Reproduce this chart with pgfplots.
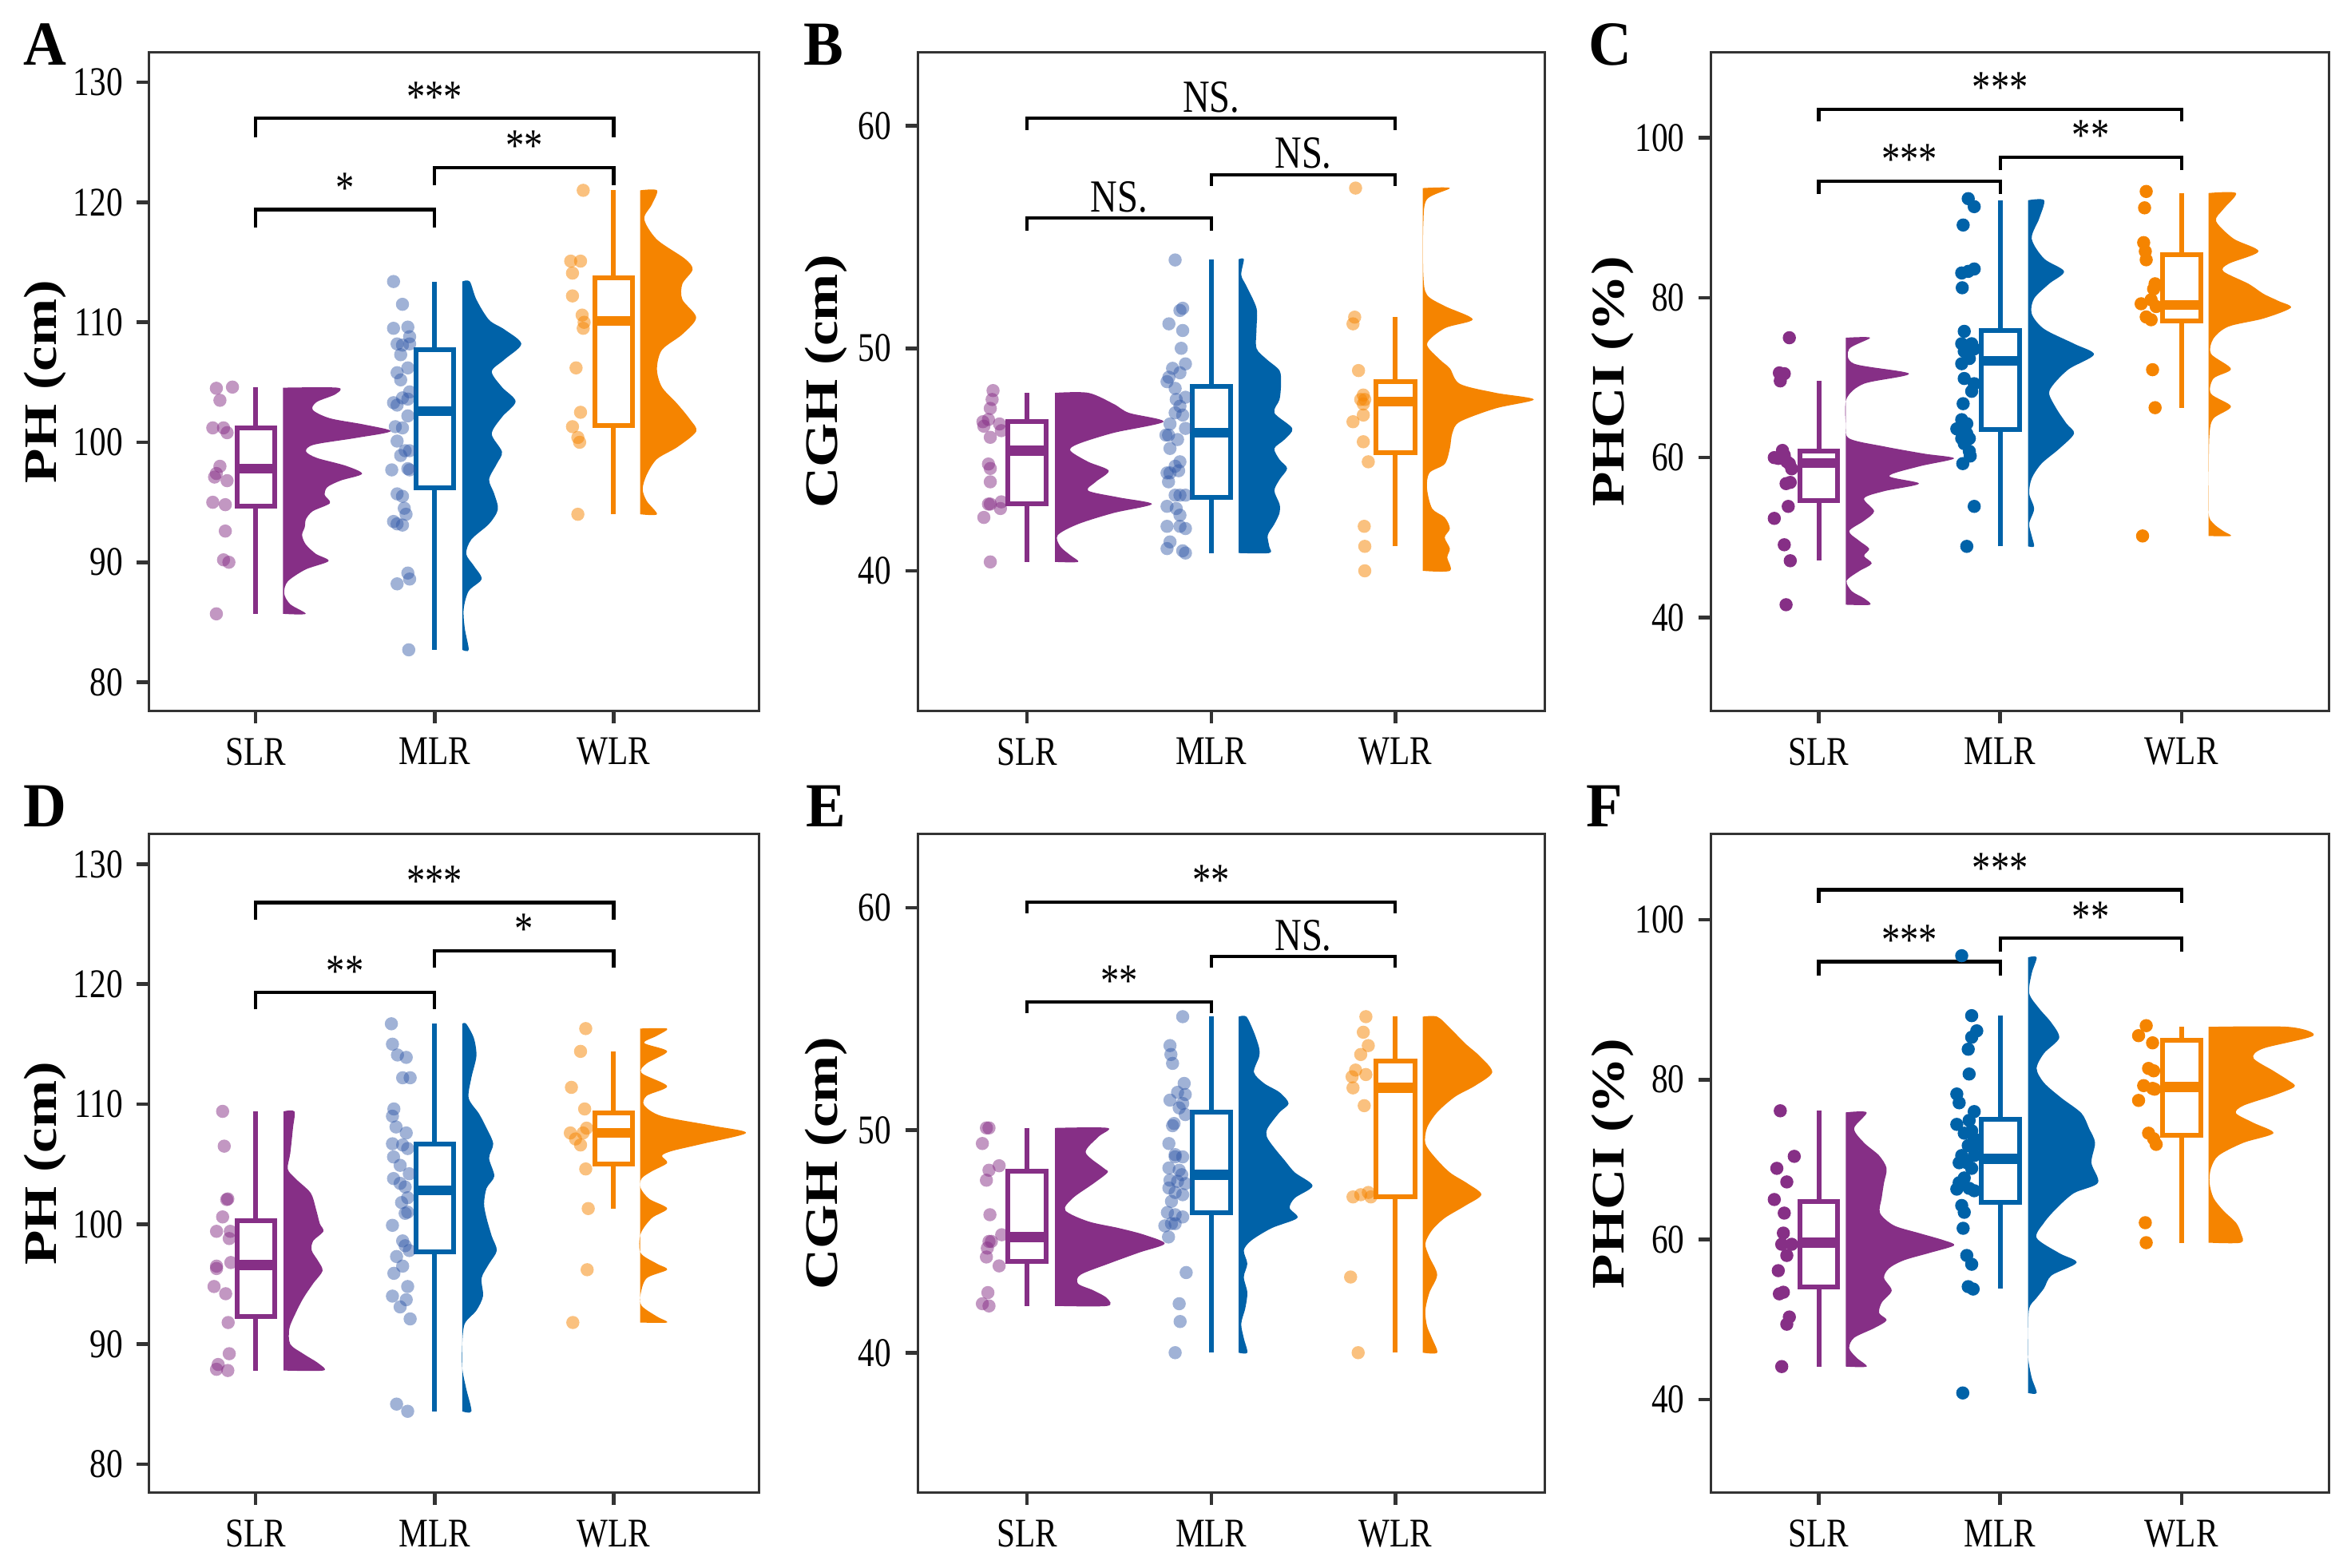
\documentclass[border=0pt]{standalone}
\usepackage{fontspec}
\setmainfont{Liberation Serif}[FakeStretch=0.81]
\newfontfamily\letfont{Liberation Serif}[FakeStretch=0.95]
\newfontfamily\ylfont{Liberation Serif}
\usepackage{pgfplots}
\pgfplotsset{compat=1.18}
\definecolor{cS}{HTML}{862F86}
\definecolor{cM}{HTML}{0062A8}
\definecolor{cW}{HTML}{F58400}
\definecolor{pM}{HTML}{2D55A5}
\definecolor{frm}{HTML}{333333}
\newcommand{\tlf}{\fontsize{10.2bp}{12bp}\selectfont}
\newcommand{\sigf}{\fontsize{11.5bp}{13bp}\selectfont}
\newcommand{\ylf}{\ylfont\bfseries\fontsize{14.2bp}{16bp}\selectfont}
\newcommand{\letf}{\letfont\bfseries\fontsize{15.7bp}{18bp}\selectfont}

% box: x, xl, xr, colour, wlo, q1, med, q3, whi
\newcommand{\bx}[9]{%
  \addplot[#4, line width=1.2bp] coordinates {(#1,#5) (#1,#9)};
  \addplot[#4, line width=1.2bp, fill=white] coordinates {(#2,#6) (#3,#6) (#3,#8) (#2,#8)} --cycle;
  \addplot[#4, line width=2.5bp] coordinates {(#2,#7) (#3,#7)};
}
% bracket: x1, x2, ylo, yhi, xmid, label
\newcommand{\brk}[6]{%
  \addplot[black, line width=0.85bp] coordinates {(#1,#3) (#1,#4) (#2,#4) (#2,#3)};
  \node[anchor=base, inner sep=0pt, yshift=1.6bp, font=\sigf] at (axis cs:#5,#4) {#6};
}
\newcommand{\dens}[2]{\addplot[draw=none, fill=#1, smooth] coordinates {#2} --cycle;}
\newcommand{\pts}[3]{\addplot[color=#1, only marks, mark=*, mark size=1.65bp, mark options={draw opacity=0, line width=0pt, fill=#1, fill opacity=#2}] coordinates {#3};}

\pgfplotsset{
 rc/.style={
  scale only axis, anchor=south west,
  xmin=0.405, xmax=3.812,
  xtick={1,2,3}, xticklabels={SLR,MLR,WLR},
  xtick pos=left, ytick pos=left,
  tick align=outside,
  major tick length=3.1bp,
  minor tick num=0,
  tick style={draw=frm, line width=0.9bp},
  axis line style={draw=frm, line width=0.6bp},
  tick label style={font=\tlf, text=black},
  xticklabel style={anchor=north, inner sep=0pt, yshift=-3.5bp},
  yticklabel style={anchor=east, inner sep=0pt, xshift=-3.3bp},
  /pgf/number format/assume math mode=true,
  clip=false,
 },
 rA/.style={rc, ymin=77.6, ymax=132.5, ytick={80,90,100,110,120,130}},
 rB/.style={rc, ymin=33.7, ymax=63.3, ytick={40,50,60}},
 rC/.style={rc, ymin=28.3, ymax=110.7, ytick={40,60,80,100}},
}

\begin{document}
\begin{tikzpicture}
\path[use as bounding box] (0,0) rectangle (587.8bp,392.8bp);

% ================= A =================
\begin{axis}[rA, at={(37.38bp,214.68bp)}, width=152.7bp, height=165bp]
\dens{cS}{(1.152,85.7) (1.279,85.7) (1.193,86.5) (1.159,87.4) (1.179,88.4) (1.279,89.4) (1.407,90.1) (1.336,90.7) (1.279,91.5) (1.259,92.27) (1.274,92.93) (1.281,93.6) (1.319,94.26) (1.415,94.93) (1.386,95.6) (1.4,96.26) (1.475,96.81) (1.594,97.37) (1.504,98.04) (1.341,98.7) (1.281,99.25) (1.326,99.8) (1.564,100.37) (1.754,100.92) (1.609,101.47) (1.415,102.0) (1.319,102.7) (1.341,103.36) (1.445,104.0) (1.457,104.55) (1.152,104.55)}
\dens{cM}{(2.154,82.7) (2.19,82.7) (2.168,84.5) (2.162,86.1) (2.19,87.6) (2.262,88.6) (2.219,89.7) (2.176,90.7) (2.205,91.9) (2.304,93.2) (2.353,94.4) (2.333,95.7) (2.304,96.9) (2.347,98.2) (2.376,99.2) (2.319,100.7) (2.376,102.1) (2.452,103.4) (2.376,104.6) (2.319,105.9) (2.39,106.9) (2.484,108.2) (2.39,109.4) (2.304,110.2) (2.233,111.9) (2.196,113.4) (2.154,113.4)}
\dens{cW}{(3.148,94.0) (3.242,94.0) (3.185,95.1) (3.162,96.1) (3.185,97.3) (3.242,98.6) (3.356,99.6) (3.461,100.9) (3.427,101.9) (3.356,103.2) (3.27,104.6) (3.242,106.1) (3.27,107.7) (3.384,109.0) (3.461,110.4) (3.384,111.9) (3.384,113.2) (3.441,114.4) (3.398,115.3) (3.242,116.9) (3.171,118.6) (3.213,119.8) (3.242,121.0) (3.148,121.0)}
\bx{1}{0.895}{1.105}{cS}{85.7}{94.7}{97.8}{101.2}{104.6}
\bx{2}{1.895}{2.105}{cM}{82.7}{96.2}{102.6}{107.7}{113.4}
\bx{3}{2.895}{3.105}{cW}{94.0}{101.4}{110.1}{113.7}{121.0}
\pts{cS}{0.5}{(0.78,104.5) (0.87,104.6) (0.80,103.5) (0.76,101.2) (0.82,101.2) (0.84,100.8) (0.80,98.0) (0.78,97.4) (0.77,97.1) (0.84,96.8) (0.76,95.0) (0.83,94.8) (0.83,92.6) (0.82,90.2) (0.85,90.0) (0.78,85.7)}
\pts{pM}{0.45}{(1.77,113.4) (1.82,111.5) (1.77,109.5) (1.85,109.6) (1.86,108.8) (1.79,108.2) (1.82,108.1) (1.86,108.2) (1.81,107.3) (1.85,106.2) (1.79,105.8) (1.81,105.2) (1.86,104.2) (1.82,103.7) (1.85,103.6) (1.77,103.3) (1.79,103.1) (1.85,102.2) (1.78,101.3) (1.82,101.2) (1.79,100.1) (1.835,99.3) (1.86,99.3) (1.81,98.9) (1.76,97.7) (1.85,97.8) (1.86,97.7) (1.79,95.7) (1.82,95.5) (1.83,94.5) (1.84,94.0) (1.77,93.4) (1.79,93.2) (1.82,93.1) (1.85,89.1) (1.86,88.6) (1.79,88.2) (1.855,82.7)}
\pts{cW}{0.5}{(2.83,121.0) (2.76,115.1) (2.815,115.1) (2.77,114.1) (2.77,112.2) (2.824,110.6) (2.835,110.0) (2.83,109.5) (2.79,106.2) (2.815,102.5) (2.77,101.3) (2.80,100.4) (2.81,100.0) (2.80,94.0)}
\brk{1}{3}{125.4}{127.0}{2}{***}
\brk{1}{2}{117.9}{119.4}{1.5}{*}
\brk{2}{3}{121.4}{122.9}{2.5}{**}
\end{axis}

% ================= B =================
\begin{axis}[rB, at={(229.8bp,214.68bp)}, width=157.1bp, height=165bp]
\dens{cS}{(1.152,40.4) (1.277,40.4) (1.235,40.7) (1.18,41.1) (1.166,41.6) (1.277,42.1) (1.47,42.6) (1.678,43.0) (1.498,43.3) (1.332,43.6) (1.373,44.0) (1.443,44.5) (1.332,44.9) (1.235,45.4) (1.277,45.7) (1.47,46.2) (1.741,46.7) (1.553,47.1) (1.47,47.5) (1.332,48.0) (1.152,48.0)}
\dens{cM}{(2.149,40.8) (2.315,40.8) (2.315,41.1) (2.307,41.6) (2.343,42.1) (2.371,42.6) (2.371,43.0) (2.343,43.6) (2.371,44.1) (2.412,44.6) (2.371,45.0) (2.343,45.5) (2.398,45.9) (2.44,46.4) (2.343,47.1) (2.371,47.7) (2.379,48.4) (2.371,49.0) (2.302,49.5) (2.246,50.0) (2.246,50.9) (2.246,51.8) (2.191,52.8) (2.163,53.3) (2.177,54.0) (2.149,54.0)}
\dens{cW}{(3.149,40.0) (3.296,40.0) (3.282,40.6) (3.296,41.0) (3.268,41.5) (3.296,41.9) (3.268,42.4) (3.2,42.8) (3.172,43.7) (3.185,44.4) (3.268,44.8) (3.296,45.5) (3.31,46.2) (3.351,46.7) (3.545,47.3) (3.752,47.7) (3.545,48.0) (3.351,48.4) (3.296,49.1) (3.241,49.5) (3.172,50.2) (3.268,50.9) (3.42,51.3) (3.268,51.9) (3.172,52.4) (3.152,53.3) (3.152,55.6) (3.172,56.7) (3.296,57.2) (3.149,57.2)}
\bx{1}{0.895}{1.105}{cS}{40.4}{43.0}{45.4}{46.7}{48.0}
\bx{2}{1.895}{2.105}{cM}{40.8}{43.3}{46.2}{48.3}{54.0}
\bx{3}{2.895}{3.105}{cW}{41.1}{45.3}{47.6}{48.5}{51.4}
\pts{cS}{0.5}{(0.815,48.1) (0.81,47.7) (0.80,47.3) (0.79,46.8) (0.85,46.6) (0.76,46.7) (0.765,46.5) (0.80,46.0) (0.86,46.3) (0.79,44.8) (0.80,44.6) (0.80,44.0) (0.79,43.0) (0.80,43.0) (0.86,43.1) (0.855,42.8) (0.765,42.4) (0.80,40.4)}
\pts{pM}{0.45}{(1.804,53.97) (1.845,51.8) (1.83,51.7) (1.77,51.1) (1.845,50.8) (1.837,50.0) (1.86,49.3) (1.79,49.1) (1.77,48.7) (1.83,48.9) (1.76,48.5) (1.804,48.2) (1.81,47.7) (1.86,47.8) (1.83,47.4) (1.804,47.1) (1.845,47.0) (1.776,46.6) (1.86,46.4) (1.768,46.1) (1.754,46.1) (1.817,45.9) (1.776,45.5) (1.83,44.9) (1.804,44.7) (1.776,44.4) (1.823,44.5) (1.76,44.4) (1.768,44.0) (1.83,43.4) (1.804,43.4) (1.86,43.4) (1.76,42.9) (1.81,42.8) (1.83,42.5) (1.86,41.9) (1.76,42.0) (1.83,42.0) (1.776,41.3) (1.76,41.0) (1.86,40.8) (1.845,40.9)}
\pts{cW}{0.5}{(2.784,57.2) (2.779,51.4) (2.77,51.1) (2.80,49.0) (2.826,47.9) (2.812,47.7) (2.834,47.7) (2.826,47.5) (2.77,46.7) (2.826,47.0) (2.826,45.8) (2.853,44.9) (2.831,42.0) (2.834,41.1) (2.834,40.0)}
\brk{1}{3}{59.8}{60.34}{2}{NS.}
\brk{1}{2}{55.3}{55.85}{1.5}{NS.}
\brk{2}{3}{57.3}{57.8}{2.5}{NS.}
\end{axis}

% ================= C =================
\begin{axis}[rC, at={(428.46bp,214.68bp)}, width=154.8bp, height=165bp]
\dens{cS}{(1.149,41.6) (1.283,41.6) (1.25,42.4) (1.182,43.3) (1.154,44.6) (1.223,45.8) (1.292,46.75) (1.25,47.7) (1.278,48.6) (1.223,49.6) (1.168,50.8) (1.25,52.1) (1.305,53.3) (1.25,54.9) (1.36,55.8) (1.553,56.75) (1.388,57.7) (1.553,58.9) (1.746,59.9) (1.58,60.5) (1.36,61.4) (1.168,62.4) (1.149,64.25) (1.154,67.4) (1.25,69.25) (1.498,70.5) (1.195,71.75) (1.168,73.6) (1.283,75.0) (1.149,75.0)}
\dens{cM}{(2.154,48.9) (2.187,48.9) (2.174,50.2) (2.16,51.75) (2.187,53.6) (2.16,55.5) (2.174,57.4) (2.228,59.25) (2.325,61.1) (2.407,63.0) (2.366,64.25) (2.311,66.1) (2.27,68.0) (2.297,69.25) (2.38,71.1) (2.517,72.9) (2.407,74.25) (2.242,76.1) (2.174,78.0) (2.187,79.9) (2.27,81.75) (2.352,83.3) (2.242,84.9) (2.174,87.4) (2.215,89.9) (2.242,92.2) (2.154,92.2)}
\dens{cW}{(3.149,50.2) (3.272,50.2) (3.231,50.8) (3.176,51.75) (3.149,53.0) (3.149,58.0) (3.154,63.0) (3.176,64.9) (3.272,66.4) (3.162,68.0) (3.176,69.9) (3.272,71.1) (3.162,73.0) (3.176,74.9) (3.259,76.4) (3.451,77.4) (3.602,78.75) (3.534,79.6) (3.451,80.5) (3.369,81.75) (3.231,83.3) (3.259,84.25) (3.424,85.8) (3.286,87.4) (3.19,89.6) (3.231,91.1) (3.3,93.1) (3.149,93.1)}
\bx{1}{0.895}{1.105}{cS}{47.1}{54.6}{59.3}{60.8}{69.6}
\bx{2}{1.895}{2.105}{cM}{48.9}{63.5}{72.1}{75.9}{92.2}
\bx{3}{2.895}{3.105}{cW}{66.25}{77.1}{79.1}{85.4}{93.1}
\pts{cS}{1}{(0.838,75.0) (0.783,70.6) (0.81,70.5) (0.788,69.6) (0.755,60.0) (0.80,60.9) (0.81,60.3) (0.838,59.25) (0.851,58.6) (0.82,56.75) (0.843,56.9) (0.832,53.9) (0.755,52.4) (0.81,49.1) (0.843,47.1) (0.82,41.6) (0.777,59.9) (0.824,59.5)}
\pts{cM}{1}{(1.824,92.4) (1.857,91.4) (1.796,89.1) (1.788,83.1) (1.857,83.6) (1.824,83.3) (1.791,81.25) (1.802,75.8) (1.788,74.25) (1.843,74.25) (1.802,73.3) (1.857,73.6) (1.788,71.75) (1.83,72.4) (1.802,69.9) (1.857,69.25) (1.843,68.3) (1.796,66.75) (1.788,64.75) (1.816,64.25) (1.761,63.6) (1.816,63.0) (1.788,62.4) (1.83,62.4) (1.802,61.75) (1.83,60.8) (1.835,60.2) (1.794,59.25) (1.857,53.9) (1.816,48.9)}
\pts{cW}{1}{(2.805,93.3) (2.796,91.25) (2.791,86.9) (2.80,85.8) (2.805,84.75) (2.854,81.75) (2.846,81.1) (2.777,79.25) (2.832,79.75) (2.86,78.9) (2.805,77.6) (2.832,77.25) (2.84,71.0) (2.854,66.25) (2.785,50.2)}
\brk{1}{3}{102.1}{103.6}{2}{***}
\brk{1}{2}{93.0}{94.6}{1.5}{***}
\brk{2}{3}{96.0}{97.6}{2.5}{**}
\end{axis}

% ================= D =================
\begin{axis}[rA, at={(37.38bp,18.82bp)}, width=152.7bp, height=165bp]
\dens{cS}{(1.156,87.8) (1.378,87.8) (1.35,88.4) (1.265,89.2) (1.193,90.0) (1.188,91.3) (1.222,92.55) (1.265,93.8) (1.321,95.05) (1.373,96.1) (1.35,96.9) (1.313,97.8) (1.321,98.6) (1.378,99.4) (1.358,100.05) (1.336,101.3) (1.307,102.6) (1.222,103.8) (1.179,104.6) (1.193,105.9) (1.208,108.0) (1.216,109.4) (1.156,109.4)}
\dens{cM}{(2.154,84.4) (2.205,84.4) (2.176,86.3) (2.154,88.0) (2.154,90.0) (2.168,91.7) (2.233,92.8) (2.27,94.0) (2.262,95.5) (2.304,96.7) (2.347,97.8) (2.319,99.0) (2.29,100.5) (2.276,101.7) (2.29,103.0) (2.333,104.0) (2.304,105.5) (2.327,106.7) (2.29,108.0) (2.248,109.2) (2.19,110.5) (2.205,112.2) (2.233,114.0) (2.219,115.5) (2.176,116.7) (2.154,116.7)}
\dens{cW}{(3.148,91.8) (3.299,91.8) (3.242,92.3) (3.156,93.2) (3.151,94.2) (3.185,95.5) (3.299,96.2) (3.242,96.7) (3.151,97.6) (3.151,99.2) (3.213,100.5) (3.299,101.3) (3.199,102.1) (3.151,103.0) (3.156,103.8) (3.213,104.4) (3.299,105.1) (3.27,105.7) (3.327,106.1) (3.498,106.7) (3.74,107.6) (3.555,108.2) (3.27,109.0) (3.171,109.9) (3.185,110.7) (3.299,111.5) (3.156,112.6) (3.185,113.4) (3.299,114.4) (3.171,115.1) (3.242,115.7) (3.299,116.3) (3.148,116.3)}
\bx{1}{0.895}{1.105}{cS}{87.8}{92.3}{96.6}{100.3}{109.4}
\bx{2}{1.895}{2.105}{cM}{84.4}{97.7}{102.8}{106.7}{116.7}
\bx{3}{2.895}{3.105}{cW}{101.3}{105.0}{107.6}{109.3}{114.4}
\pts{cS}{0.5}{(0.815,109.4) (0.824,106.5) (0.844,102.1) (0.838,102.05) (0.815,100.6) (0.781,99.4) (0.858,99.4) (0.852,98.8) (0.861,96.8) (0.781,96.5) (0.781,96.3) (0.767,94.8) (0.832,94.2) (0.846,91.8) (0.852,89.2) (0.79,88.3) (0.781,87.9) (0.844,87.8)}
\pts{pM}{0.45}{(1.758,116.7) (1.764,115.0) (1.792,114.1) (1.841,113.9) (1.821,112.2) (1.863,112.2) (1.772,109.6) (1.764,109.0) (1.784,108.1) (1.841,107.6) (1.764,106.7) (1.821,106.6) (1.849,106.3) (1.77,105.6) (1.807,104.9) (1.77,103.8) (1.858,104.2) (1.807,103.4) (1.835,103.1) (1.849,102.2) (1.815,101.8) (1.835,100.9) (1.849,101.0) (1.764,99.9) (1.821,98.6) (1.835,98.2) (1.858,97.8) (1.787,97.3) (1.821,96.5) (1.772,95.9) (1.849,94.8) (1.764,94.0) (1.841,93.7) (1.807,93.1) (1.863,92.1) (1.787,85.0) (1.849,84.4)}
\pts{cW}{0.5}{(2.844,116.3) (2.815,114.4) (2.764,111.4) (2.838,109.6) (2.758,107.6) (2.829,107.6) (2.787,107.1) (2.849,108.0) (2.815,106.6) (2.844,104.6) (2.858,101.3) (2.852,96.2) (2.772,91.8)}
\brk{1}{3}{125.4}{126.8}{2}{***}
\brk{1}{2}{117.9}{119.3}{1.5}{**}
\brk{2}{3}{121.4}{122.8}{2.5}{*}
\end{axis}

% ================= E =================
\begin{axis}[rB, at={(229.8bp,18.82bp)}, width=157.1bp, height=165bp]
\dens{cS}{(1.152,42.1) (1.434,42.1) (1.434,42.45) (1.36,42.8) (1.277,43.1) (1.29,43.5) (1.443,44.0) (1.609,44.5) (1.747,44.9) (1.636,45.3) (1.498,45.6) (1.332,45.9) (1.207,46.4) (1.249,46.95) (1.36,47.6) (1.437,48.1) (1.415,48.3) (1.318,49.0) (1.387,49.7) (1.437,50.1) (1.152,50.1)}
\dens{cM}{(2.149,40.0) (2.196,40.0) (2.177,40.65) (2.163,41.3) (2.185,42.0) (2.196,42.7) (2.177,43.4) (2.196,44.0) (2.177,44.6) (2.219,45.05) (2.329,45.6) (2.467,46.05) (2.426,46.5) (2.454,46.95) (2.55,47.5) (2.454,48.1) (2.398,48.65) (2.343,49.2) (2.302,49.7) (2.307,50.1) (2.371,50.8) (2.42,51.2) (2.371,51.7) (2.288,52.1) (2.232,52.6) (2.26,53.3) (2.26,53.7) (2.232,54.4) (2.191,55.1) (2.149,55.1)}
\dens{cW}{(3.149,40.0) (3.227,40.0) (3.199,40.65) (3.172,41.2) (3.163,41.9) (3.185,42.7) (3.227,43.5) (3.185,44.3) (3.163,44.9) (3.199,45.5) (3.268,46.05) (3.379,46.6) (3.467,47.1) (3.393,47.6) (3.296,48.1) (3.213,48.8) (3.163,49.4) (3.172,50.1) (3.227,50.8) (3.324,51.5) (3.434,52.0) (3.526,52.6) (3.462,53.3) (3.379,53.9) (3.296,54.6) (3.227,55.1) (3.149,55.1)}
\bx{1}{0.895}{1.105}{cS}{42.1}{44.1}{45.2}{48.15}{50.1}
\bx{2}{1.895}{2.105}{cM}{40.0}{46.3}{48.0}{50.8}{55.1}
\bx{3}{2.895}{3.105}{cW}{40.0}{47.0}{51.9}{53.1}{55.1}
\pts{cS}{0.5}{(0.793,50.1) (0.779,50.1) (0.757,49.4) (0.848,48.4) (0.793,48.2) (0.779,47.75) (0.798,46.2) (0.862,45.3) (0.806,45.0) (0.793,45.0) (0.784,44.7) (0.779,44.3) (0.848,43.9) (0.787,42.7) (0.757,42.2) (0.793,42.1)}
\pts{pM}{0.45}{(1.845,55.1) (1.776,53.8) (1.781,53.4) (1.79,53.0) (1.853,52.1) (1.817,51.7) (1.859,51.6) (1.776,51.35) (1.845,51.2) (1.826,51.0) (1.859,50.7) (1.798,50.3) (1.79,50.2) (1.77,49.4) (1.804,48.9) (1.804,48.8) (1.845,48.8) (1.77,48.3) (1.826,48.2) (1.84,48.0) (1.776,47.75) (1.817,47.7) (1.859,47.6) (1.77,47.4) (1.804,47.2) (1.845,47.1) (1.784,46.8) (1.762,46.3) (1.804,46.2) (1.845,46.1) (1.784,45.8) (1.748,45.7) (1.804,45.8) (1.768,45.2) (1.864,43.6) (1.826,42.2) (1.831,41.4) (1.804,40.0)}
\pts{cW}{0.5}{(2.84,55.1) (2.826,54.4) (2.853,53.8) (2.812,53.4) (2.784,52.7) (2.84,52.5) (2.765,52.4) (2.77,51.9) (2.831,51.1) (2.853,47.2) (2.812,47.1) (2.77,47.0) (2.867,47.0) (2.757,43.4) (2.798,40.0)}
\brk{1}{3}{59.75}{60.25}{2}{**}
\brk{1}{2}{55.25}{55.75}{1.5}{**}
\brk{2}{3}{57.3}{57.8}{2.5}{NS.}
\end{axis}

% ================= F =================
\begin{axis}[rC, at={(428.46bp,18.82bp)}, width=154.8bp, height=165bp]
\dens{cS}{(1.149,44.1) (1.264,44.1) (1.209,45.2) (1.168,46.4) (1.195,47.7) (1.305,48.9) (1.374,49.9) (1.333,50.8) (1.347,52.1) (1.402,53.6) (1.36,55.2) (1.388,56.4) (1.47,57.4) (1.608,58.3) (1.746,59.25) (1.69,59.9) (1.553,60.8) (1.415,61.75) (1.338,63.3) (1.347,65.2) (1.36,67.1) (1.374,68.9) (1.333,70.5) (1.25,72.1) (1.195,73.9) (1.264,75.9) (1.149,75.9)}
\dens{cM}{(2.154,40.8) (2.201,40.8) (2.174,42.7) (2.154,45.2) (2.154,48.3) (2.16,51.4) (2.201,52.7) (2.242,53.9) (2.283,55.5) (2.421,57.1) (2.325,58.3) (2.201,60.2) (2.242,62.1) (2.311,63.9) (2.407,65.8) (2.539,67.1) (2.503,69.6) (2.523,72.1) (2.49,73.9) (2.448,75.8) (2.338,77.7) (2.242,79.6) (2.201,81.4) (2.242,83.3) (2.325,85.2) (2.283,87.1) (2.215,88.9) (2.16,90.8) (2.174,93.3) (2.201,95.3) (2.154,95.3)}
\dens{cW}{(3.149,59.6) (3.327,59.6) (3.327,60.8) (3.3,62.1) (3.231,63.6) (3.176,65.2) (3.154,67.1) (3.162,68.9) (3.204,70.5) (3.341,72.1) (3.506,73.3) (3.396,74.6) (3.3,75.8) (3.341,76.75) (3.506,78.0) (3.622,79.1) (3.589,79.9) (3.506,81.1) (3.396,82.7) (3.451,83.9) (3.726,85.5) (3.589,86.6) (3.149,86.6)}
\bx{1}{0.895}{1.105}{cS}{44.1}{54.1}{59.6}{64.7}{76.1}
\bx{2}{1.895}{2.105}{cM}{53.9}{64.6}{70.1}{75.0}{88.0}
\bx{3}{2.895}{3.105}{cW}{59.6}{73.0}{79.1}{84.9}{86.6}
\pts{cS}{1}{(0.788,76.1) (0.865,70.4) (0.769,68.9) (0.824,67.2) (0.755,65.0) (0.81,63.3) (0.805,60.8) (0.796,59.4) (0.851,59.4) (0.824,58.0) (0.777,56.1) (0.805,53.4) (0.783,53.2) (0.838,50.3) (0.824,49.4) (0.796,44.1)}
\pts{cM}{1}{(1.788,95.5) (1.843,88.0) (1.871,86.1) (1.843,85.3) (1.824,83.8) (1.829,80.7) (1.761,78.2) (1.774,77.1) (1.857,76.0) (1.761,74.4) (1.829,74.9) (1.802,73.3) (1.843,73.6) (1.857,72.6) (1.824,71.75) (1.788,70.5) (1.857,70.5) (1.774,69.6) (1.843,68.9) (1.802,67.7) (1.761,66.3) (1.829,66.4) (1.857,66.1) (1.788,64.25) (1.802,63.4) (1.796,61.4) (1.816,58.0) (1.843,56.9) (1.824,54.1) (1.851,53.8) (1.794,40.8) (1.862,71.75) (1.816,69.6) (1.774,67.1)}
\pts{cW}{1}{(2.805,86.75) (2.763,85.5) (2.84,84.6) (2.818,81.4) (2.846,81.1) (2.791,79.25) (2.84,78.9) (2.851,78.8) (2.763,77.4) (2.818,73.3) (2.846,72.6) (2.86,71.9) (2.80,62.1) (2.805,59.6)}
\brk{1}{3}{102.1}{103.75}{2}{***}
\brk{1}{2}{93.0}{94.75}{1.5}{***}
\brk{2}{3}{96.0}{97.7}{2.5}{**}
\end{axis}

% panel letters
\node[anchor=base west, inner sep=0pt, font=\letf] at (5.7bp,376.55bp) {A};
\node[anchor=base west, inner sep=0pt, font=\letf] at (201.1bp,376.55bp) {B};
\node[anchor=base west, inner sep=0pt, font=\letf] at (397.6bp,376.55bp) {C};
\node[anchor=base west, inner sep=0pt, font=\letf] at (5.7bp,185.76bp) {D};
\node[anchor=base west, inner sep=0pt, font=\letf] at (201.6bp,185.76bp) {E};
\node[anchor=base west, inner sep=0pt, font=\letf] at (397.0bp,185.76bp) {F};
% y labels
\node[rotate=90, yscale=0.82, inner sep=0pt, font=\ylf] at (11.2bp,297.18bp) {PH (cm)};
\node[rotate=90, yscale=0.82, inner sep=0pt, font=\ylf] at (206.8bp,297.18bp) {CGH (cm)};
\node[rotate=90, yscale=0.82, inner sep=0pt, font=\ylf] at (403.9bp,297.18bp) {PHCI (\%)};
\node[rotate=90, yscale=0.82, inner sep=0pt, font=\ylf] at (11.2bp,101.35bp) {PH (cm)};
\node[rotate=90, yscale=0.82, inner sep=0pt, font=\ylf] at (206.8bp,101.35bp) {CGH (cm)};
\node[rotate=90, yscale=0.82, inner sep=0pt, font=\ylf] at (403.9bp,101.35bp) {PHCI (\%)};
\end{tikzpicture}
\end{document}
